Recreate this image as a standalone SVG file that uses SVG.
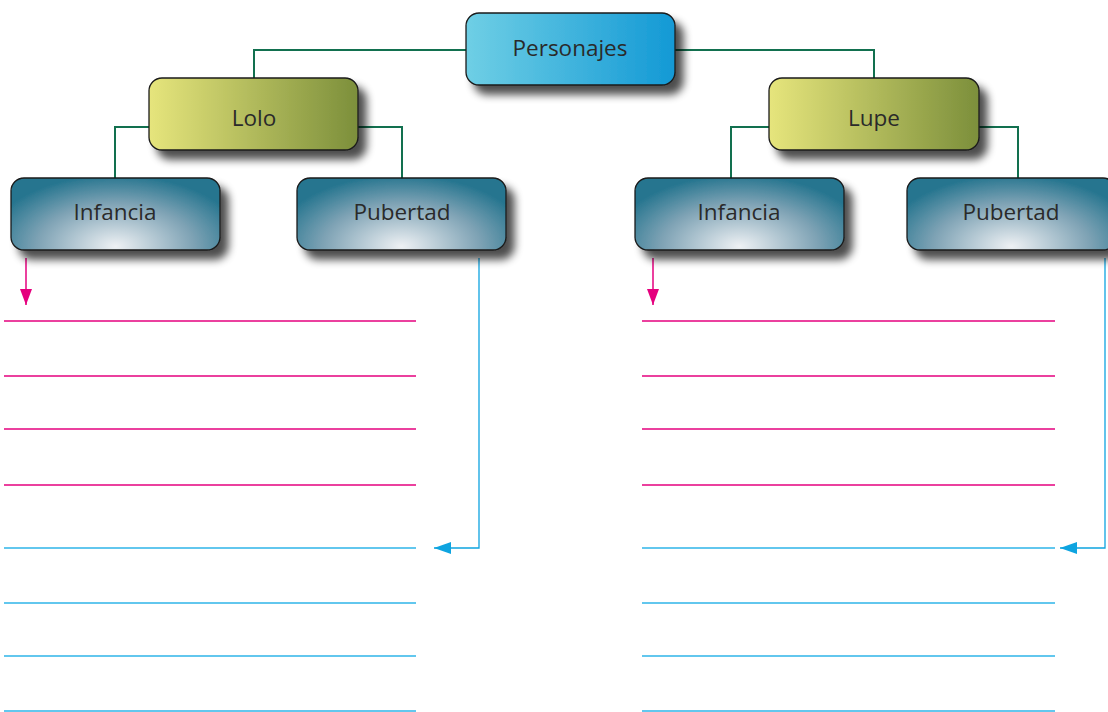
<svg xmlns="http://www.w3.org/2000/svg" width="1108" height="712" viewBox="0 0 1108 712">
<defs>
<linearGradient id="gTop" x1="0" y1="0" x2="1" y2="0">
<stop offset="0" stop-color="#6fcfe5"/><stop offset="1" stop-color="#1399d5"/>
</linearGradient>
<linearGradient id="gMid" x1="0" y1="0" x2="1" y2="0">
<stop offset="0" stop-color="#e6e57c"/><stop offset="1" stop-color="#7c8f3b"/>
</linearGradient>
<radialGradient id="gLeaf" cx="0.5" cy="0.95" r="0.62" fx="0.5" fy="0.95" gradientTransform="translate(0.5 0.95) scale(1 1.6) translate(-0.5 -0.95)">
<stop offset="0" stop-color="#eef1f4"/><stop offset="0.6" stop-color="#7fa3b5"/><stop offset="1" stop-color="#26758f"/>
</radialGradient>
<filter id="sh" x="-10%" y="-20%" width="130%" height="170%">
<feGaussianBlur in="SourceAlpha" stdDeviation="4"/>
<feOffset dx="8" dy="9" result="b"/>
<feComponentTransfer><feFuncA type="linear" slope="0.7"/></feComponentTransfer>
<feMerge><feMergeNode/><feMergeNode in="SourceGraphic"/></feMerge>
</filter>
<marker id="aPink" viewBox="0 0 10 10" refX="10" refY="5" markerWidth="16" markerHeight="12" markerUnits="userSpaceOnUse" orient="auto" preserveAspectRatio="none">
<path d="M0,0 L10,5 L0,10 z" fill="#e5007e"/>
</marker>
<marker id="aBlue" viewBox="0 0 10 10" refX="10" refY="5" markerWidth="17" markerHeight="12" markerUnits="userSpaceOnUse" orient="auto" preserveAspectRatio="none">
<path d="M0,0 L10,5 L0,10 z" fill="#0ea4e0"/>
</marker>
<style>
.box{stroke:#1a1a1a;stroke-width:1.3;filter:url(#sh)}
.lbl{font-family:"Open Sans","Liberation Sans",sans-serif;font-size:22.5px;fill:#2a2a2a;text-anchor:middle;dominant-baseline:central}
.con{fill:none;stroke:#12704f;stroke-width:2}
.pink{stroke:#e5007e;stroke-width:1.3}
.blue{stroke:#2eb4e8;stroke-width:1.3}
</style>
</defs>
<g id="connectors">
<path class="con" d="M466,50 H254 V78"/>
<path class="con" d="M675,50 H874 V78"/>
<path class="con" d="M149,127 H115 V178"/>
<path class="con" d="M358,127 H402 V178"/>
<path class="con" d="M769,127 H731 V178"/>
<path class="con" d="M979,127 H1018 V178"/>
<path d="M26,258 V305" stroke="#e5007e" stroke-width="1.5" fill="none" marker-end="url(#aPink)"/>
<path d="M653,258 V305" stroke="#e5007e" stroke-width="1.5" fill="none" marker-end="url(#aPink)"/>
<path d="M479,258 V548 H434" stroke="#0ea4e0" stroke-width="1.3" fill="none" marker-end="url(#aBlue)"/>
<path d="M1105,258 V548 H1060" stroke="#0ea4e0" stroke-width="1.3" fill="none" marker-end="url(#aBlue)"/>
</g>
<g id="lines">
<line class="pink" x1="4" y1="321" x2="416" y2="321"/>
<line class="pink" x1="4" y1="376" x2="416" y2="376"/>
<line class="pink" x1="4" y1="429" x2="416" y2="429"/>
<line class="pink" x1="4" y1="485" x2="416" y2="485"/>
<line class="blue" x1="4" y1="548" x2="416" y2="548"/>
<line class="blue" x1="4" y1="603" x2="416" y2="603"/>
<line class="blue" x1="4" y1="656" x2="416" y2="656"/>
<line class="blue" x1="4" y1="711" x2="416" y2="711"/>
<line class="pink" x1="642" y1="321" x2="1055" y2="321"/>
<line class="pink" x1="642" y1="376" x2="1055" y2="376"/>
<line class="pink" x1="642" y1="429" x2="1055" y2="429"/>
<line class="pink" x1="642" y1="485" x2="1055" y2="485"/>
<line class="blue" x1="642" y1="548" x2="1055" y2="548"/>
<line class="blue" x1="642" y1="603" x2="1055" y2="603"/>
<line class="blue" x1="642" y1="656" x2="1055" y2="656"/>
<line class="blue" x1="642" y1="711" x2="1055" y2="711"/>
</g>
<g id="personajes"><rect class="box" x="466" y="13" width="209" height="72" rx="13" fill="url(#gTop)"/><text class="lbl" x="570" y="47">Personajes</text></g>
<g id="lolo"><rect class="box" x="149" y="78" width="209" height="72" rx="13" fill="url(#gMid)"/><text class="lbl" x="254" y="117">Lolo</text></g>
<g id="lupe"><rect class="box" x="769" y="78" width="210" height="72" rx="13" fill="url(#gMid)"/><text class="lbl" x="874" y="117">Lupe</text></g>
<g id="infancia-lolo"><rect class="box" x="11" y="178" width="209" height="72" rx="13" fill="url(#gLeaf)"/><text class="lbl" x="115" y="211">Infancia</text></g>
<g id="pubertad-lolo"><rect class="box" x="297" y="178" width="209" height="72" rx="13" fill="url(#gLeaf)"/><text class="lbl" x="402" y="211">Pubertad</text></g>
<g id="infancia-lupe"><rect class="box" x="635" y="178" width="209" height="72" rx="13" fill="url(#gLeaf)"/><text class="lbl" x="739" y="211">Infancia</text></g>
<g id="pubertad-lupe"><rect class="box" x="907" y="178" width="209" height="72" rx="13" fill="url(#gLeaf)"/><text class="lbl" x="1011" y="211">Pubertad</text></g>
</svg>
